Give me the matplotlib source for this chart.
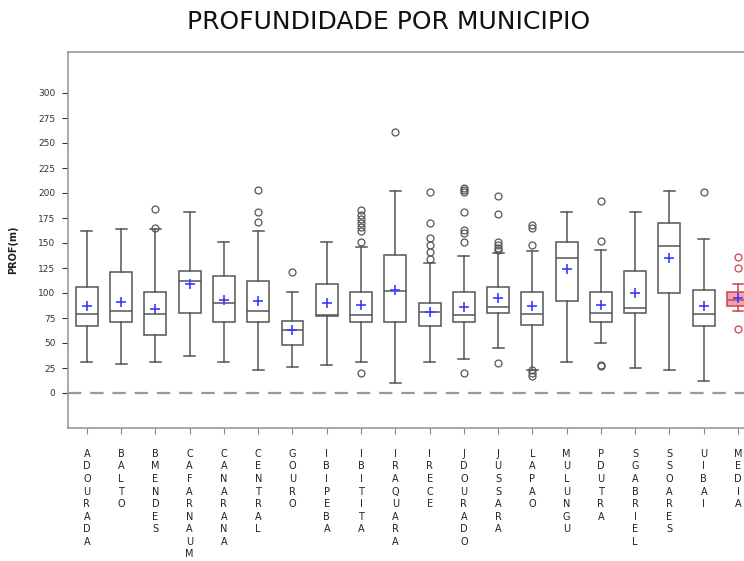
import matplotlib
matplotlib.use("Agg")
import matplotlib.pyplot as plt

# profundidade (m) por municipio
municipios = ['ADOURADA', 'BALTO', 'BMENDES', 'CAFARNAUM', 'CANARANA', 'CENTRAL',
              'GOURO', 'IBIPEBA', 'IBITITA', 'IRAQUARA', 'IRECE', 'JDOURADO',
              'JUSSARA', 'LAPAO', 'MULUNGU', 'PDUTRA', 'SGABRIEL', 'SSOARES',
              'UIBAI', 'MEDIA']
q1 = [67, 71, 58, 80, 71, 71, 48, 77, 71, 71, 67, 71, 80, 68, 92, 71, 80, 100, 67, 87]
mediana = [79, 82, 79, 112, 90, 82, 63, 78, 78, 102, 81, 78, 86, 79, 135, 80, 85, 147, 79, 93]
q3 = [106, 121, 101, 122, 117, 112, 72, 109, 101, 138, 90, 101, 106, 101, 151, 101, 122, 170, 103, 101]
minimo = [31, 29, 31, 37, 31, 23, 26, 28, 31, 10, 31, 34, 45, 23, 31, 50, 25, 23, 12, 82]
maximo = [162, 164, 164, 181, 151, 162, 101, 151, 146, 202, 130, 137, 140, 142, 181, 143, 181, 202, 154, 109]
media = [87, 91, 84, 109, 93, 92, 63, 90, 88, 103, 81, 86, 95, 87, 124, 88, 100, 135, 87, 95]
outliers = [
    [],
    [],
    [165, 184],
    [],
    [],
    [171, 181, 203],
    [121],
    [],
    [151, 162, 166, 170, 174, 178, 183, 20],
    [261],
    [201, 170, 155, 148, 141, 134],
    [151, 160, 163, 181, 201, 203, 205, 20],
    [197, 179, 151, 148, 145, 143, 30],
    [148, 165, 168, 23, 20, 17],
    [],
    [192, 152, 28, 27],
    [],
    [],
    [201],
    [136, 125, 64],
]

stats = []
for i, nome in enumerate(municipios):
    stats.append(dict(label=nome, q1=q1[i], med=mediana[i], q3=q3[i],
                      whislo=minimo[i], whishi=maximo[i], mean=media[i],
                      fliers=outliers[i]))

fig = plt.figure(figsize=(7.44, 5.61), dpi=100)
W, H = 744, 561
ax = fig.add_axes([68 / W, 1 - 428 / H, (762 - 68) / W, (428 - 52) / H])

pos = list(range(1, len(municipios) + 1))
cinza = '#555555'
for i, s in enumerate(stats):
    ultimo = (i == len(stats) - 1)
    cor = '#d04050' if ultimo else cinza
    ax.bxp([s], positions=[pos[i]], widths=0.64, showmeans=True, patch_artist=True,
           boxprops=dict(facecolor='#f4a3ad' if ultimo else 'white', edgecolor=cor, linewidth=1.1),
           medianprops=dict(color=cor, linewidth=1.1),
           whiskerprops=dict(color=cor, linewidth=1.1),
           capprops=dict(color=cor, linewidth=1.1),
           meanprops=dict(marker='+', markeredgecolor='#3a3aff', markersize=7, markeredgewidth=1.2),
           flierprops=dict(marker='o', markerfacecolor='none', markeredgecolor=cor,
                           markersize=5, markeredgewidth=0.9))

ax.axhline(0, color='#999999', linestyle=(0, (6, 4)), linewidth=1.6, zorder=0)

ax.set_xlim(0.45, 20.7)
ax.set_ylim(-35, 341)
ax.set_yticks(range(0, 301, 25))
ax.tick_params(axis='y', labelsize=6.5, colors='#333333', length=4, pad=5)
ax.set_xticks(pos)
ax.set_xticklabels(['\n'.join(n) for n in municipios], fontsize=7, linespacing=1.32,
                   va='top', color='#222222')
ax.tick_params(axis='x', length=4, pad=11, color='#888888')
for sp in ax.spines.values():
    sp.set_color('#999999')
    sp.set_linewidth(1.2)

ax.set_ylabel('PROF(m)', fontsize=7, color='#222222', fontweight='bold')
ax.yaxis.set_label_coords(-50 / (762 - 68), (428 - 250) / (428 - 52))
fig.text(389 / W, 1 - 22 / H, 'PROFUNDIDADE POR MUNICIPIO', ha='center', va='center',
         fontsize=18, color='#111111')

fig.savefig('out.png', dpi=100)
